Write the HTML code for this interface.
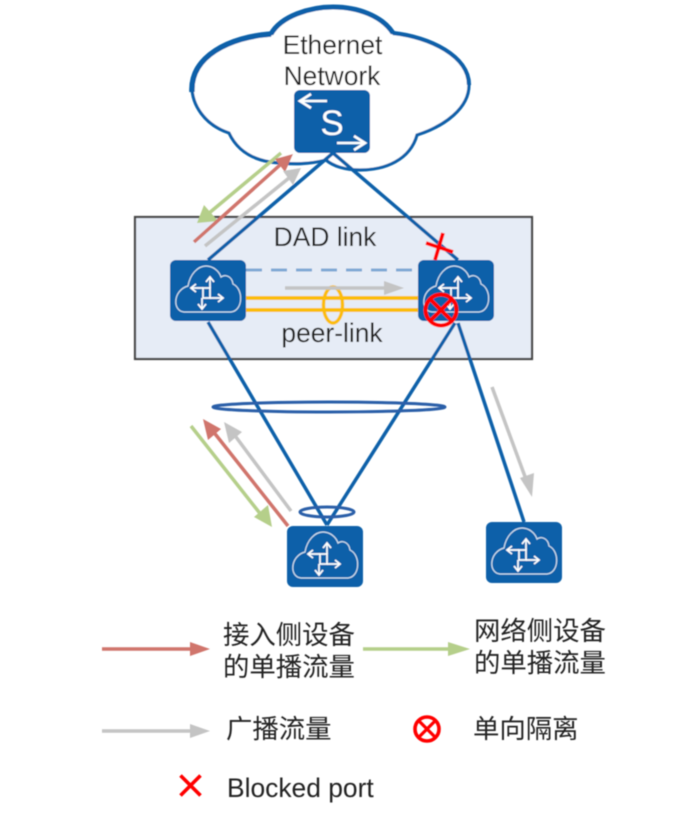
<!DOCTYPE html>
<html>
<head>
<meta charset="utf-8">
<style>
html,body{margin:0;padding:0;background:#fff;width:678px;height:823px;overflow:hidden}
svg{display:block}
text{font-family:"Liberation Sans","Noto Sans CJK SC",sans-serif;font-size:26.4px;fill:#222}
</style>
</head>
<body>
<svg width="678" height="823" viewBox="0 0 678 823" xmlns="http://www.w3.org/2000/svg">
<defs>
<filter id="b" x="-5%" y="-5%" width="110%" height="110%"><feGaussianBlur stdDeviation="0.55"/></filter>
<g id="dev">
<rect x="0" y="0" width="76" height="61" rx="6" fill="#0a60a9"/>
<path d="M14 52 C2 51 3 30 18 26 C20 14 28 6 36 6 C43 6 49 11 51 17 C55 14 62 16 63 24 C74 29 73 51 61 52 Z" fill="none" stroke="#cfe0ef" stroke-width="1.2"/>
<g fill="none" stroke="#fff" stroke-width="1.7">
<rect x="33" y="28" width="7" height="10"/>
<path d="M22 28 L33 28 M40 18 L40 28 M40 38 L52 38 M32 38 L32 48"/>
<path d="M26 24 L21 28 L26 32 M36 22 L40 17 L44 22 M48 34 L53 38 L48 42 M28 44 L32 49 L36 44"/>
</g>
</g>
</defs>
<g filter="url(#b)">
<!-- cloud -->
<path d="M271 34 C281 16 310 7 333 7 C358 7 382 16 393 33 C430 37 469 56 469 85 C469 108 445 126 417 135 C410 160 385 170 360 170 C345 170 333 166 326 160 C310 164 295 165 270 162 C252 159 237 150 229 133 C205 125 191 105 192 84 C192 56 230 37 271 34 Z" fill="#fff" stroke="#0a60a9" stroke-width="3.2"/>
<path d="M271 34 C281 16 310 7 333 7 C358 7 382 16 393 33" fill="none" stroke="#0a60a9" stroke-width="5"/>
<path d="M192 92 C190 56 230 37 271 34" fill="none" stroke="#0a60a9" stroke-width="5.5"/>
<path d="M393 33 C430 37 469 56 469 85" fill="none" stroke="#0a60a9" stroke-width="4.2"/>
<!-- panel -->
<rect x="135" y="217" width="397" height="142" fill="#e6ecf6" stroke="#444" stroke-width="2.2"/>
<!-- blue connectors -->
<g stroke="#0a60a9" stroke-width="3.5" fill="none">
<path d="M333 153 L208 260"/>
<path d="M333 153 L458 260"/>
<path d="M208 322 L327 525"/>
<path d="M455 323 L327 525"/>
<path d="M458 323 L524 522"/>
</g>
<!-- ellipses -->
<ellipse cx="329" cy="407" rx="116" ry="5" fill="none" stroke="#2a5ea8" stroke-width="3"/>
<ellipse cx="327" cy="512" rx="27" ry="5" fill="none" stroke="#2a5ea8" stroke-width="3"/>
<!-- S switch -->
<rect x="294" y="90" width="76" height="63" rx="6" fill="#0a60a9"/>
<text x="332" y="135" text-anchor="middle" style="font-size:35px;fill:#fff">S</text>
<path d="M327 101 L301 101 M311 94 L300 101 L311 108" stroke="#fff" stroke-width="2.6" fill="none"/>
<path d="M337 143 L364 143 M354 136 L365 143 L354 150" stroke="#fff" stroke-width="2.6" fill="none"/>
<!-- devices -->
<use href="#dev" x="170" y="260"/>
<use href="#dev" x="418" y="260"/>
<use href="#dev" x="287" y="526"/>
<use href="#dev" x="486" y="522"/>
<!-- DAD / peer -->
<path d="M246 270 L418 270" stroke="#7fa8d4" stroke-width="3" stroke-dasharray="16 9" fill="none"/>
<path d="M246 298 L418 298 M246 310 L418 310" stroke="#fbbd10" stroke-width="4" fill="none"/>
<ellipse cx="333" cy="305" rx="9.5" ry="18" fill="none" stroke="#fbbd10" stroke-width="3.5"/>
<path d="M285 288 L386 288" stroke="#c4c4c4" stroke-width="3.5" fill="none"/>
<path d="M404 288 L384 281 L384 295 Z" fill="#c4c4c4"/>
<!-- top flows -->
<path d="M281 153 L208 214" stroke="#b5cf8a" stroke-width="3.5" fill="none"/>
<path d="M197 223 L204 205 L218 221 Z" fill="#b5cf8a"/>
<path d="M194 242 L280 165" stroke="#d0756c" stroke-width="3.5" fill="none"/>
<path d="M293 154 L275 159 L285 172 Z" fill="#d0756c"/>
<path d="M205 246 L289 178" stroke="#c4c4c4" stroke-width="3.5" fill="none"/>
<path d="M301 168 L283 171 L293 185 Z" fill="#c4c4c4"/>
<!-- bottom flows -->
<path d="M191 426 L262 516" stroke="#b5cf8a" stroke-width="3.5" fill="none"/>
<path d="M272 527 L254 517 L268 505 Z" fill="#b5cf8a"/>
<path d="M288 526 L212 430" stroke="#d0756c" stroke-width="3.5" fill="none"/>
<path d="M203 419 L221 429 L208 440 Z" fill="#d0756c"/>
<path d="M291 511 L233 433" stroke="#c4c4c4" stroke-width="3.5" fill="none"/>
<path d="M224 422 L242 432 L229 443 Z" fill="#c4c4c4"/>
<path d="M492 387 L527 482" stroke="#c4c4c4" stroke-width="3.5" fill="none"/>
<path d="M532 497 L520 478 L534 473 Z" fill="#c4c4c4"/>
<!-- red marks -->
<path d="M443 233 L435 260 M426 243 L453 252" stroke="#f00" stroke-width="3.8" fill="none"/>
<circle cx="441" cy="310" r="15.5" fill="none" stroke="#f00" stroke-width="4"/>
<path d="M430 299 L452 321 M452 299 L430 321" stroke="#f00" stroke-width="4" fill="none"/>
<!-- labels -->
<text x="332.5" y="54" text-anchor="middle">Ethernet</text>
<text x="332" y="85" text-anchor="middle">Network</text>
<text x="325" y="246" text-anchor="middle">DAD link</text>
<text x="332" y="342" text-anchor="middle">peer-link</text>
<!-- legend -->
<path d="M102 649 L192 649" stroke="#d0756c" stroke-width="3.5" fill="none"/>
<path d="M210 649 L190 642 L190 656 Z" fill="#d0756c"/>
<path d="M363 649 L450 649" stroke="#b5cf8a" stroke-width="3.5" fill="none"/>
<path d="M470 649 L448 642 L448 656 Z" fill="#b5cf8a"/>
<path d="M102 731 L192 731" stroke="#c4c4c4" stroke-width="3.5" fill="none"/>
<path d="M210 731 L190 724 L190 738 Z" fill="#c4c4c4"/>
<circle cx="427" cy="729" r="12" fill="none" stroke="#f00" stroke-width="3.6"/>
<path d="M419 721 L435 737 M435 721 L419 737" stroke="#f00" stroke-width="3.2" fill="none"/>
<path d="M180.5 775.5 L200.5 795.5 M200.5 775.5 L180.5 795.5" stroke="#f00" stroke-width="3.6" fill="none"/>
<text x="223" y="644">接入侧设备</text>
<text x="223" y="676">的单播流量</text>
<text x="474" y="640">网络侧设备</text>
<text x="474" y="672">的单播流量</text>
<text x="226" y="738">广播流量</text>
<text x="473" y="738">单向隔离</text>
<text x="227" y="797">Blocked port</text>
</g>
</svg>
</body>
</html>
